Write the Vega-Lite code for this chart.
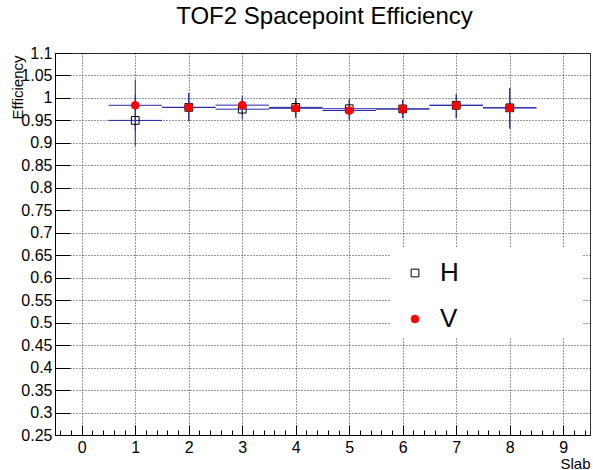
{
  "$schema": "https://vega.github.io/schema/vega-lite/v6.json",
  "width": 535,
  "height": 382,
  "autosize": {"type": "none"},
  "padding": {"left": 55, "top": 53, "right": 3, "bottom": 35},
  "background": "white",
  "title": {"text": "TOF2 Spacepoint Efficiency", "fontSize": 24, "font": "Liberation Sans", "fontWeight": "normal", "color": "black", "anchor": "middle", "offset": -3, "baseline": "alphabetic", "dx": 2},
  "config": {
    "font": "Liberation Sans",
    "view": {"stroke": "#333", "strokeWidth": 1},
    "legend": {"orient": "none", "legendX": 347, "legendY": 207, "title": null, "labelFontSize": 26, "labelFont": "Liberation Sans", "labelColor": "black", "symbolSize": 60, "symbolStrokeWidth": 1, "rowPadding": 20, "labelOffset": 12, "padding": 0}
  },
  "datasets": {
    "eff": [
      {"slab": 1, "series": "H", "eff": 0.950, "lo": 0.893, "hi": 1.007, "bin_lo": 0.5, "bin_hi": 1.5},
      {"slab": 2, "series": "H", "eff": 0.979, "lo": 0.948, "hi": 1.011, "bin_lo": 1.5, "bin_hi": 2.5},
      {"slab": 3, "series": "H", "eff": 0.975, "lo": 0.952, "hi": 0.998, "bin_lo": 2.5, "bin_hi": 3.5},
      {"slab": 4, "series": "H", "eff": 0.979, "lo": 0.957, "hi": 1.000, "bin_lo": 3.5, "bin_hi": 4.5},
      {"slab": 5, "series": "H", "eff": 0.976, "lo": 0.953, "hi": 0.999, "bin_lo": 4.5, "bin_hi": 5.5},
      {"slab": 6, "series": "H", "eff": 0.9755, "lo": 0.955, "hi": 0.996, "bin_lo": 5.5, "bin_hi": 6.5},
      {"slab": 7, "series": "H", "eff": 0.9836, "lo": 0.955, "hi": 1.008, "bin_lo": 6.5, "bin_hi": 7.5},
      {"slab": 8, "series": "H", "eff": 0.978, "lo": 0.932, "hi": 1.022, "bin_lo": 7.5, "bin_hi": 8.5},
      {"slab": 1, "series": "V", "eff": 0.9836, "lo": 0.926, "hi": 1.041, "bin_lo": 0.5, "bin_hi": 1.5},
      {"slab": 2, "series": "V", "eff": 0.979, "lo": 0.948, "hi": 1.011, "bin_lo": 1.5, "bin_hi": 2.5},
      {"slab": 3, "series": "V", "eff": 0.984, "lo": 0.962, "hi": 1.005, "bin_lo": 2.5, "bin_hi": 3.5},
      {"slab": 4, "series": "V", "eff": 0.977, "lo": 0.955, "hi": 0.999, "bin_lo": 3.5, "bin_hi": 4.5},
      {"slab": 5, "series": "V", "eff": 0.972, "lo": 0.950, "hi": 0.995, "bin_lo": 4.5, "bin_hi": 5.5},
      {"slab": 6, "series": "V", "eff": 0.9755, "lo": 0.955, "hi": 0.996, "bin_lo": 5.5, "bin_hi": 6.5},
      {"slab": 7, "series": "V", "eff": 0.9836, "lo": 0.955, "hi": 1.008, "bin_lo": 6.5, "bin_hi": 7.5},
      {"slab": 8, "series": "V", "eff": 0.978, "lo": 0.932, "hi": 1.022, "bin_lo": 7.5, "bin_hi": 8.5}
    ]
  },
  "layer": [
    {
      "data": {"values": [{}]},
      "mark": {"type": "rect", "fill": "white", "stroke": null},
      "encoding": {
        "x": {"datum": 5.77, "type": "quantitative", "scale": {"domain": [-0.5, 9.5], "nice": false, "zero": false},
          "axis": {"orient": "bottom", "values": [-0.4, -0.2, 0.2, 0.4, 0.6, 0.8, 1.2, 1.4, 1.6, 1.8, 2.2, 2.4, 2.6, 2.8, 3.2, 3.4, 3.6, 3.8, 4.2, 4.4, 4.6, 4.8, 5.2, 5.4, 5.6, 5.8, 6.2, 6.4, 6.6, 6.8, 7.2, 7.4, 7.6, 7.8, 8.2, 8.4, 8.6, 8.8, 9.2, 9.4], "tickSize": -5, "tickColor": "#000", "labels": false, "domain": false, "grid": false, "title": null}},
        "x2": {"datum": 9.36},
        "y": {"datum": 0.666, "type": "quantitative", "scale": {"domain": [0.25, 1.1], "nice": false, "zero": false}, "axis": null},
        "y2": {"datum": 0.466}
      }
    },
    {
      "data": {"name": "eff"},
      "mark": {"type": "rule", "color": "#2626a8", "strokeWidth": 1},
      "encoding": {
        "x": {"field": "slab", "type": "quantitative", "scale": {"domain": [-0.5, 9.5], "nice": false, "zero": false}, "axis": null},
        "y": {"field": "lo", "type": "quantitative", "scale": {"domain": [0.25, 1.1], "nice": false, "zero": false}, "axis": null},
        "y2": {"field": "hi"}
      }
    },
    {
      "data": {"name": "eff"},
      "mark": {"type": "rule", "color": "#2626a8", "strokeWidth": 1},
      "encoding": {
        "x": {"field": "bin_lo", "type": "quantitative", "scale": {"domain": [-0.5, 9.5], "nice": false, "zero": false}, "axis": null},
        "x2": {"field": "bin_hi"},
        "y": {"field": "eff", "type": "quantitative", "scale": {"domain": [0.25, 1.1], "nice": false, "zero": false}, "axis": null}
      }
    },
    {
      "data": {"name": "eff"},
      "mark": {"type": "point", "size": 60, "strokeWidth": 1, "opacity": 1},
      "encoding": {
        "x": {"field": "slab", "type": "quantitative", "scale": {"domain": [-0.5, 9.5], "nice": false, "zero": false},
          "axis": {"orient": "bottom", "values": [0, 1, 2, 3, 4, 5, 6, 7, 8, 9], "grid": true, "gridDash": [1, 2], "gridColor": "#000", "gridOpacity": 0.8, "tickSize": -10, "tickColor": "#000", "domainColor": "#000", "labelFontSize": 16, "labelFont": "Liberation Sans", "labelColor": "#000", "labelPadding": 14, "title": "Slab", "titleFont": "Liberation Sans", "titleFontSize": 15, "titleFontWeight": "normal", "titleColor": "#000", "titleAnchor": "end", "titleAlign": "right", "titleX": 535, "titleY": 33, "titleBaseline": "alphabetic"}},
        "y": {"field": "eff", "type": "quantitative", "scale": {"domain": [0.25, 1.1], "nice": false, "zero": false},
          "axis": {"orient": "left", "values": [0.25, 0.3, 0.35, 0.4, 0.45, 0.5, 0.55, 0.6, 0.65, 0.7, 0.75, 0.8, 0.85, 0.9, 0.95, 1, 1.05, 1.1], "format": ".2~f", "grid": true, "gridDash": [1, 2], "gridColor": "#000", "gridOpacity": 0.8, "tickSize": -15, "tickColor": "#000", "domainColor": "#000", "labelFontSize": 16, "labelFont": "Liberation Sans", "labelColor": "#000", "labelPadding": 18, "title": "Efficiency", "titleFont": "Liberation Sans", "titleFontSize": 15, "titleFontWeight": "normal", "titleColor": "#000", "titleAngle": -90, "titleAnchor": "end", "titleAlign": "right", "titleX": -33, "titleY": 2, "titleBaseline": "alphabetic"}},
        "shape": {"field": "series", "type": "nominal", "scale": {"domain": ["H", "V"], "range": ["square", "circle"]}},
        "fill": {"field": "series", "type": "nominal", "scale": {"domain": ["H", "V"], "range": ["transparent", "#ff0000"]}},
        "stroke": {"field": "series", "type": "nominal", "scale": {"domain": ["H", "V"], "range": ["#000000", "#ff0000"]}}
      }
    }
  ],
  "resolve": {"axis": {"x": "independent", "y": "independent"}}
}
